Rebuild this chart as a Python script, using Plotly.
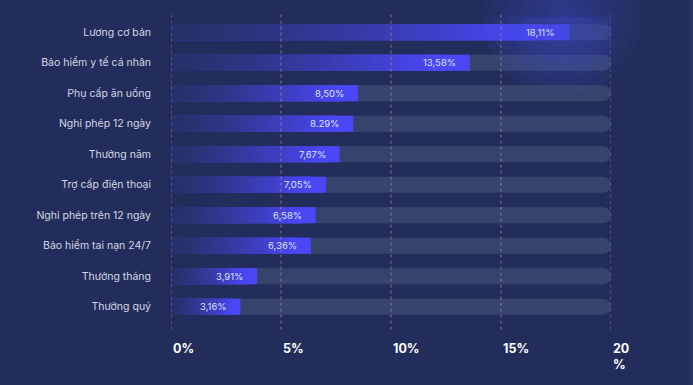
import plotly.graph_objects as go

categories = ["Lương cơ bản", "Bảo hiểm y tế cá nhân", "Phụ cấp ăn uống", "Nghỉ phép 12 ngày",
              "Thưởng năm", "Trợ cấp điện thoại", "Nghỉ phép trên 12 ngày",
              "Bảo hiểm tai nạn 24/7", "Thưởng tháng", "Thưởng quý"]
values = [18.11, 13.58, 8.50, 8.29, 7.67, 7.05, 6.58, 6.36, 3.91, 3.16]
value_labels = ["18,11%", "13,58%", "8,50%", "8.29%", "7,67%", "7,05%", "6,58%", "6,36%", "3,91%", "3,16%"]
tick_vals = [0, 5, 10, 15, 20]
tick_text = ["0%", "5%", "10%", "15%", "20<br>%"]
axis_max = 20

BG = "#232d5b"
FONT = "Inter"
L, R, T, B = 171, 82, 17, 63
PW, PH = 693 - L - R, 385 - T - B

def lerp(c1, c2, t):
    return "#%02x%02x%02x" % tuple(int(round(a + (b - a) * t)) for a, b in zip(c1, c2))

dark = (0x27, 0x31, 0x6a)
bright = (0x4a, 0x47, 0xf6)

fig = go.Figure()
# track
fig.add_trace(go.Bar(y=categories, x=[axis_max] * len(categories), orientation="h",
                     marker=dict(color="#36446d", cornerradius=8, line=dict(width=0)),
                     hoverinfo="skip", width=0.53))
# full bright bar (rounded end)
fig.add_trace(go.Bar(y=categories, x=values, orientation="h",
                     marker=dict(color="#%02x%02x%02x" % bright, cornerradius=8, line=dict(width=0)),
                     hoverinfo="skip", width=0.53))
# gradient overlay segments
N = 40
frac = 0.9
for k in range(N):
    t = k / (N - 1)
    fig.add_trace(go.Bar(y=categories, x=[v * frac / N * 2.0 for v in values],
                         base=[v * frac * k / N for v in values], orientation="h",
                         marker=dict(color=lerp(dark, bright, t ** 1.3), line=dict(width=0)),
                         hoverinfo="skip", width=0.53))

for c, v, lab in zip(categories, values, value_labels):
    fig.add_annotation(x=v, y=c, text=lab, xanchor="right", xshift=-12, showarrow=False,
                       font=dict(family=FONT, size=9.5, color="#dfe2ff"))

for tv, tt in zip(tick_vals, tick_text):
    fig.add_shape(type="line", x0=tv, x1=tv, y0=-0.025, y1=1.01, xref="x", yref="paper",
                  line=dict(color="rgba(190,130,150,0.75)", width=1, dash="dot"), layer="above")
    fig.add_annotation(x=tv, y=0, xref="x", yref="paper", yanchor="top", xanchor="left",
                       yshift=-17, text=tt, showarrow=False, align="left",
                       font=dict(family=FONT, size=12.5, color="#ffffff", weight="bold"))

# soft glow near the top right (decorative): concentric translucent circles
gx, gy = 562, 15
px_per_x = PW / axis_max
px_per_cat = PH / len(categories)
for r in range(80, 5, -8):
    fig.add_shape(type="circle", xref="paper", yref="paper",
                  x0=(gx - r - L) / PW, x1=(gx + r - L) / PW,
                  y0=1 + (T - gy - r) / PH, y1=1 + (T - gy + r) / PH,
                  fillcolor="rgba(80,95,225,0.045)", line=dict(width=0), layer="above")
    # same circle in data coordinates, so it also shows inside the plotting area
    cy = -0.5 + (gy - T) / px_per_cat
    cx = (gx - L) / px_per_x
    fig.add_shape(type="circle", xref="x", yref="y",
                  x0=cx - r / px_per_x, x1=cx + r / px_per_x,
                  y0=cy - r / px_per_cat, y1=cy + r / px_per_cat,
                  fillcolor="rgba(80,95,225,0.035)", line=dict(width=0), layer="above")

# thin lighter strip at far right edge
fig.add_shape(type="rect", xref="paper", yref="paper", x0=(689 - L) / PW, x1=(700 - L) / PW,
              y0=-1, y1=2, fillcolor="#2a3461", line=dict(width=0), layer="below")

fig.update_layout(
    width=693, height=385, barmode="overlay", showlegend=False,
    paper_bgcolor=BG, plot_bgcolor="rgba(0,0,0,0)",
    margin=dict(l=L, r=R, t=T, b=B),
    xaxis=dict(range=[0, axis_max], autorange=False, showgrid=False, zeroline=False,
               showticklabels=False),
    yaxis=dict(range=[len(categories) - 0.5, -0.5], autorange=False, showgrid=False, ticks="",
               ticklabelstandoff=19, tickfont=dict(family=FONT, size=10.5, color="#d4d7e6")),
    font=dict(family=FONT),
)
fig.write_html("out.html", config={"displayModeBar": False},
               post_script="document.body.style.margin='0';document.body.style.background='%s';" % BG)
